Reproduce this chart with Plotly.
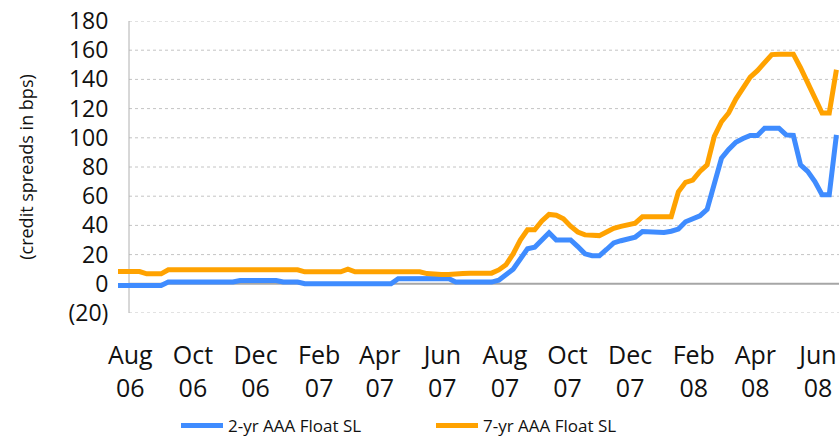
import plotly.graph_objects as go
import pandas as pd

# weekly observation dates (Jul 2006 - Jun 2008)
start_date = "2006-07-20"
n_weeks = 101

two_yr = [
    -1.2, -1.2, -1.2, -1.2, -1.2, -1.2, -1.2, 1.2, 1.2, 1.2,
    1.2, 1.2, 1.2, 1.2, 1.2, 1.2, 1.2, 2.3, 2.3, 2.3,
    2.3, 2.3, 2.3, 1.2, 1.2, 1.2, 0.0, 0.0, 0.0, 0.0,
    0.0, 0.0, 0.0, 0.0, 0.0, 0.0, 0.8, 0.0, 0.0, 3.5,
    3.6, 3.6, 3.6, 3.6, 3.6, 3.6, 3.6, 1.2, 1.2, 1.2,
    1.2, 1.2, 1.2, 2.5, 6.0, 10.0, 17.0, 24.0, 25.0, 30.0,
    35.0, 30.0, 30.0, 30.0, 25.5, 20.5, 19.2, 19.2, 23.5, 28.0,
    29.5, 31.0, 32.0, 35.8, 35.5, 35.4, 35.2, 36.0, 37.5, 42.5,
    44.5, 46.5, 51.0, 68.0, 86.0, 92.0, 97.0, 99.5, 101.6, 101.6,
    106.6, 106.6, 106.6, 102.0, 101.6, 81.5, 77.0, 70.0, 61.0, 61.0,
    102.0,
]

seven_yr = [
    8.4, 8.4, 8.4, 8.4, 6.8, 6.8, 6.8, 9.6, 9.6, 9.6,
    9.6, 9.6, 9.6, 9.6, 9.6, 9.6, 9.6, 9.6, 9.6, 9.6,
    9.6, 9.6, 9.6, 9.6, 9.6, 9.6, 8.2, 8.2, 8.2, 8.2,
    8.2, 8.2, 10.0, 8.2, 8.2, 8.2, 8.2, 8.2, 8.2, 8.2,
    8.2, 8.2, 8.2, 7.0, 6.4, 6.4, 6.4, 6.4, 7.0, 7.3,
    7.3, 7.3, 7.3, 9.5, 13.0, 20.5, 30.0, 37.0, 37.0, 43.0,
    47.5, 47.0, 44.5, 39.5, 35.5, 33.5, 33.0, 33.0, 35.5, 38.0,
    39.3, 40.5, 41.5, 46.0, 46.0, 46.0, 46.0, 46.0, 63.0, 69.5,
    71.0, 77.0, 81.5, 101.0, 111.0, 117.0, 126.5, 134.0, 141.5, 146.0,
    151.5, 157.0, 157.3, 157.3, 157.3, 148.0, 137.5, 129.0, 117.0, 117.0,
    146.6,
]

tick_dates = ["2006-08-01", "2006-10-01", "2006-12-01", "2007-02-01", "2007-04-01",
              "2007-06-01", "2007-08-01", "2007-10-01", "2007-12-01", "2008-02-01",
              "2008-04-01", "2008-06-01"]
tick_labels = ["Aug<br>06", "Oct<br>06", "Dec<br>06", "Feb<br>07", "Apr<br>07", "Jun<br>07",
               "Aug<br>07", "Oct<br>07", "Dec<br>07", "Feb<br>08", "Apr<br>08", "Jun<br>08"]

y_ticks = [-20, 0, 20, 40, 60, 80, 100, 120, 140, 160, 180]
y_tick_labels = ["(20)", "0", "20", "40", "60", "80", "100", "120", "140", "160", "180"]

series_names = ["2-yr AAA Float SL", "7-yr AAA Float SL"]
colors = ["#3f8cff", "#ffa200"]

dates = pd.date_range(start_date, periods=n_weeks, freq="7D")

fig = go.Figure()
for name, vals, col in zip(series_names, [two_yr, seven_yr], colors):
    fig.add_trace(go.Scatter(x=dates, y=vals, mode="lines", name=name,
                             line=dict(color=col, width=5)))

FONT = "Open Sans"
W, H = 839, 439
L, R, T, B = 118, 0, 21, 126
plot_w = W - L - R
plot_h = H - T - B
axis_x = (129 - L) / plot_w

shapes = []
for v in y_ticks:
    shapes.append(dict(type="line", xref="paper", yref="y", x0=axis_x, x1=1, y0=v, y1=v,
                       line=dict(color="#a6a6a6" if v == 0 else "#c4c4c4",
                                 width=2 if v == 0 else 1,
                                 dash="solid" if v == 0 else "dot"),
                       layer="below"))
shapes.append(dict(type="line", xref="paper", yref="y", x0=axis_x, x1=axis_x,
                   y0=y_ticks[0], y1=y_ticks[-1], line=dict(color="#b0b0b0", width=1),
                   layer="below"))

fig.update_layout(
    width=W, height=H,
    margin=dict(l=L, r=R, t=T, b=B, autoexpand=False),
    paper_bgcolor="white", plot_bgcolor="white",
    font=dict(family=FONT, color="#111111"),
    showlegend=True,
    legend=dict(orientation="h", x=(176 - L) / plot_w, xanchor="left",
                y=-(426 - (T + plot_h)) / plot_h, yanchor="middle",
                font=dict(size=17, family=FONT), itemwidth=42,
                entrywidth=198, entrywidthmode="pixels"),
    shapes=shapes,
    xaxis=dict(range=[dates[0], pd.Timestamp("2008-06-21 12:00")],
               tickvals=tick_dates, ticktext=tick_labels, tickangle=0,
               showgrid=False, zeroline=False, showline=False, automargin=False,
               ticks="outside", ticklen=20, tickcolor="rgba(0,0,0,0)",
               tickfont=dict(size=25, family=FONT)),
    yaxis=dict(range=[-20, 180], tickvals=y_ticks, ticktext=y_tick_labels,
               showgrid=False, zeroline=False, showline=False, automargin=False,
               ticks="outside", ticklen=4, tickcolor="rgba(0,0,0,0)",
               tickfont=dict(size=23, family=FONT),
               title=dict(text="(credit spreads in bps)", font=dict(size=18, family=FONT),
                          standoff=30)),
)

fig.write_html("out.html", config={"displayModeBar": False},
               post_script="document.body.style.margin='0px';document.body.style.overflow='hidden';")
